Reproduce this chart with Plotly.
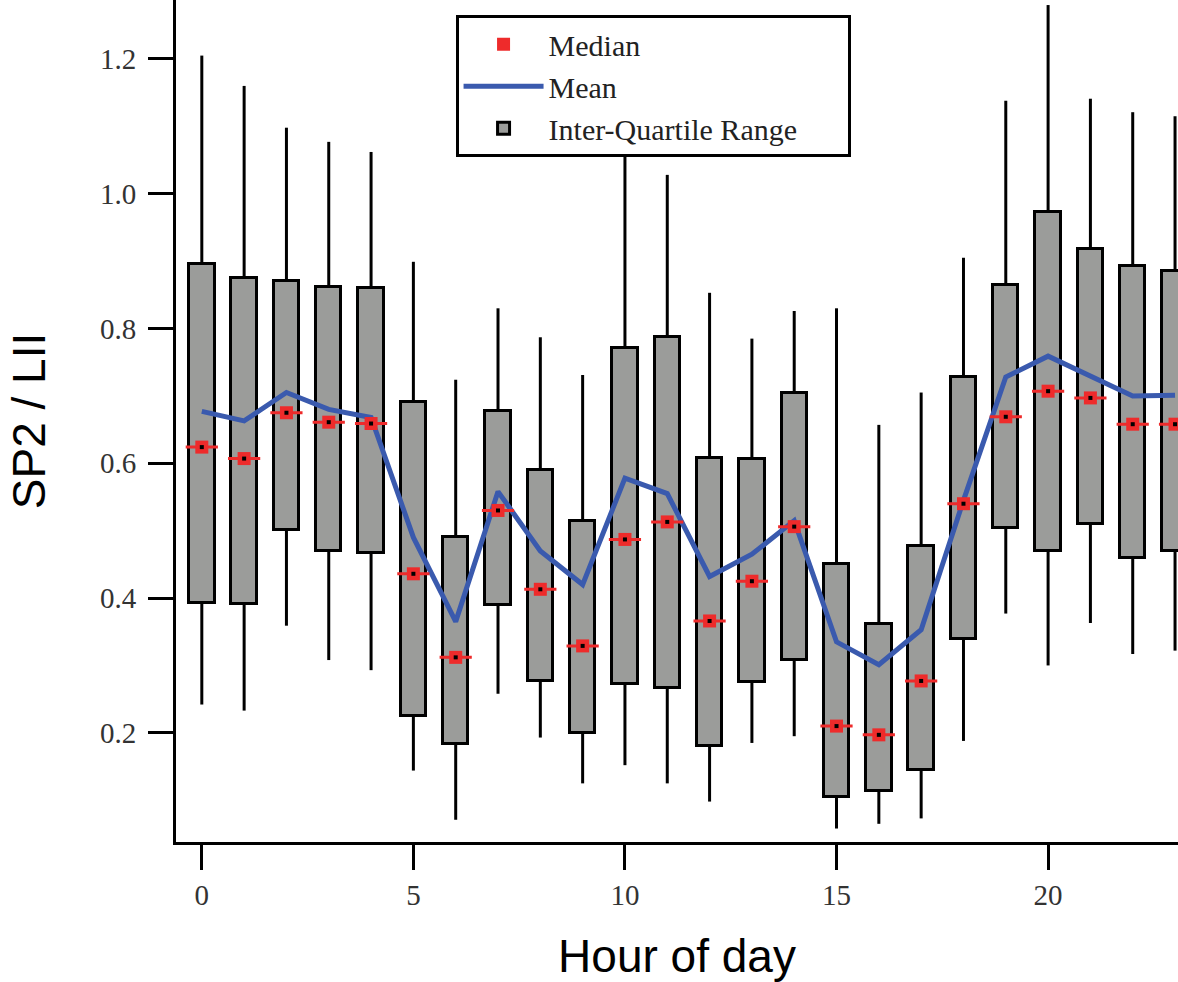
import plotly.graph_objects as go

hours = list(range(24))
whisker_top = [1.205, 1.16, 1.098, 1.077, 1.062, 0.899, 0.724, 0.83, 0.787, 0.731, 1.058, 1.028,
               0.853, 0.785, 0.826, 0.83, 0.657, 0.705, 0.905, 1.138, 1.28, 1.141, 1.121, 1.115]
q3 = [0.895, 0.875, 0.871, 0.862, 0.86, 0.691, 0.491, 0.677, 0.59, 0.515, 0.771, 0.788,
      0.608, 0.606, 0.704, 0.451, 0.362, 0.477, 0.728, 0.865, 0.973, 0.918, 0.893, 0.886]
median = [0.624, 0.607, 0.675, 0.661, 0.659, 0.436, 0.312, 0.53, 0.413, 0.329, 0.487, 0.513,
          0.366, 0.425, 0.506, 0.21, 0.197, 0.277, 0.54, 0.669, 0.707, 0.697, 0.658, 0.658]
q1 = [0.393, 0.391, 0.501, 0.47, 0.467, 0.225, 0.184, 0.39, 0.277, 0.2, 0.272, 0.266,
      0.18, 0.275, 0.308, 0.105, 0.113, 0.145, 0.339, 0.504, 0.47, 0.51, 0.46, 0.47]
whisker_bot = [0.242, 0.233, 0.359, 0.308, 0.293, 0.144, 0.071, 0.258, 0.193, 0.125, 0.152, 0.125,
               0.098, 0.185, 0.195, 0.058, 0.065, 0.073, 0.188, 0.377, 0.3, 0.363, 0.317, 0.322]
mean = [0.677, 0.663, 0.705, 0.68, 0.668, 0.49, 0.365, 0.558, 0.47, 0.42, 0.578, 0.555,
        0.432, 0.465, 0.515, 0.335, 0.301, 0.353, 0.545, 0.728, 0.759, 0.73, 0.7, 0.701]

x_ticks = [0, 5, 10, 15, 20]
y_ticks = [0.2, 0.4, 0.6, 0.8, 1.0, 1.2]
y_ticklabels = ["0.2", "0.4", "0.6", "0.8", "1.0", "1.2"]

serif = "Liberation Serif, Times New Roman, serif"
sans = "Liberation Sans, Arial, sans-serif"

# whisker segments (above and below the box)
wx, wy = [], []
for h, wt, a, b, wb in zip(hours, whisker_top, q3, q1, whisker_bot):
    wx += [h, h, None, h, h, None]
    wy += [a, wt, None, wb, b, None]

fig = go.Figure()

fig.add_trace(go.Scatter(x=wx, y=wy, mode="lines", line=dict(color="black", width=3),
                         showlegend=False, hoverinfo="skip"))

fig.add_trace(go.Bar(x=hours, y=[a - b for a, b in zip(q3, q1)], base=q1, width=0.6,
                     marker=dict(color="#9b9c9a", line=dict(color="black", width=3)),
                     name="Inter-Quartile Range" + "\u00a0" * 6, legendrank=3))

fig.add_trace(go.Scatter(x=hours, y=mean, mode="lines", line=dict(color="#3a5aae", width=5),
                         name="Mean", legendrank=2))

fig.add_trace(go.Scatter(x=hours, y=median, mode="markers",
                         marker=dict(symbol="line-ew", size=23, line=dict(color="#ee2b2b", width=3)),
                         showlegend=False, hoverinfo="skip"))
fig.add_trace(go.Scatter(x=hours, y=median, mode="markers",
                         marker=dict(symbol="square", size=13, color="#ee2b2b"),
                         name="Median", legendrank=1))
fig.add_trace(go.Scatter(x=hours, y=median, mode="markers",
                         marker=dict(symbol="square", size=4, color="black"),
                         showlegend=False, hoverinfo="skip"))

fig.update_layout(
    width=1178, height=982,
    margin=dict(l=176, r=0, t=0, b=140),
    plot_bgcolor="white", paper_bgcolor="white",
    showlegend=True,
    legend=dict(x=0.279, y=0.982, xanchor="left", yanchor="top",
                bordercolor="black", borderwidth=3, bgcolor="white",
                font=dict(family=serif, size=30, color="#222222"),
                tracegroupgap=0, itemwidth=80),
    bargap=0,
)

fig.update_xaxes(range=[-0.61, 23.07], tickvals=x_ticks, ticks="outside", ticklen=25, tickwidth=3,
                 tickcolor="black", showline=True, linecolor="black", linewidth=3,
                 showgrid=False, zeroline=False,
                 tickfont=dict(family=serif, size=29, color="#333333"),
                 title=dict(text="Hour of day", font=dict(family=sans, size=46, color="black"),
                            standoff=32))

fig.update_yaxes(range=[0.038, 1.2875], tickvals=y_ticks, ticktext=y_ticklabels,
                 ticks="outside", ticklen=25, tickwidth=3, ticklabelstandoff=6,
                 tickcolor="black", showline=True, linecolor="black", linewidth=3,
                 showgrid=False, zeroline=False,
                 tickfont=dict(family=serif, size=29, color="#333333"),
                 title=dict(text="SP2 / LII", font=dict(family=sans, size=46, color="black"),
                            standoff=40))

fig.write_html("out.html", post_script="document.body.style.margin='0';",
               config={"displayModeBar": False})
